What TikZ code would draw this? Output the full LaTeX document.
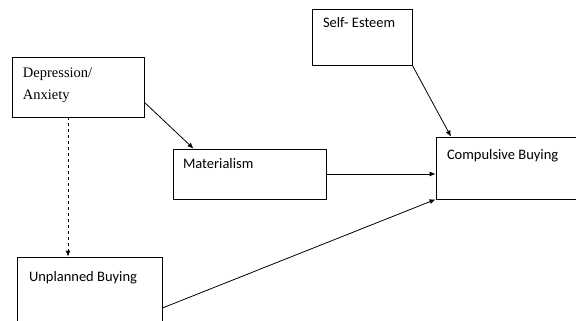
\documentclass[tikz,border=0pt]{standalone}
\usepackage{fontspec}
\setmainfont{Carlito}
\newfontfamily\timesfont{Liberation Serif}
\usepackage{tikz}
\usetikzlibrary{arrows.meta}

\begin{document}
\begin{tikzpicture}[x=1pt,y=-1pt,line width=0.8pt,
        every node/.style={draw,rectangle,inner sep=0},
        every label/.style={draw=none,inner sep=0,font=\fontsize{14.5}{21}\selectfont},
        arr/.style={-{Latex[length=6pt,width=5pt]}}]
        \useasboundingbox (0,0) rectangle (576,321);
        \node[minimum width=132pt,minimum height=60pt,
              label={[anchor=north west,shift={(11pt,-11pt)},align=left,font=\timesfont\fontsize{14.5}{22}\selectfont]north west:Depression/\\Anxiety}] (dep) at (78,87) {};
        \node[minimum width=100pt,minimum height=56pt,
              label={[anchor=base west,shift={(11pt,-19pt)}]north west:Self- Esteem}] (self) at (362,37) {};
        \node[minimum width=153pt,minimum height=50pt,
              label={[anchor=base west,shift={(10pt,-20pt)}]north west:Materialism}] (mat) at (249.5,174) {};
        \node[minimum width=164pt,minimum height=62pt,
              label={[anchor=base west,shift={(11pt,-23pt)}]north west:Compulsive Buying}] (comp) at (518,168) {};
        \node[minimum width=145pt,minimum height=83pt,
              label={[anchor=base west,shift={(12pt,-25pt)}]north west:Unplanned Buying}] (unp) at (89.5,298.5) {};
        \draw[arr] (dep.-13) -- ([xshift=-56pt]mat.north);
        \draw[arr] (self.south east) -- ([xshift=-67pt]comp.north);
        \draw[arr] (mat.east) -- (mat.east -| comp.west);
        \draw[arr] ([yshift=-9.5pt]unp.east) -- (comp.south west);
        \draw[arr,dashed] ([xshift=-10pt]dep.south) -- ([xshift=-21.5pt]unp.north);
      \end{tikzpicture}
\end{document}
